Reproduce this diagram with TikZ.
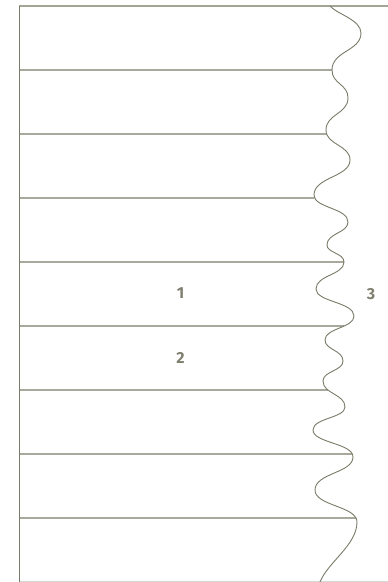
\documentclass[tikz,border=0pt]{standalone}
\usepackage{fontspec}
\setmainfont{Fira Sans}
\usetikzlibrary{intersections}
\definecolor{lineC}{RGB}{122,122,104}
\definecolor{topC}{RGB}{165,165,150}
\definecolor{botC}{RGB}{215,215,210}
\definecolor{textC}{RGB}{128,128,112}
\tikzset{
  rule/.style={draw=lineC, line width=1.4pt},
  wavy/.style={draw=lineC, line width=0.9pt},
  lbl/.style={text=textC, font=\fontsize{16}{19}\selectfont\bfseries, inner sep=0pt}
}
\begin{document}
\begin{tikzpicture}[x=1pt,y=-1pt]
\useasboundingbox (0,0) rectangle (388,582);
% frame
\draw[draw=topC, line width=1.4pt] (19,6) -- (388,6);
\draw[draw=botC, line width=1.2pt] (19,581.4) -- (388,581.4);
\draw[rule] (19.5,6) -- (19.5,582);
% wave
\path[wavy, name path=wave]
  (330,6) .. controls (337,14) and (361,20) .. (361,33)
  .. controls (361,51) and (332,51) .. (332,70)
  .. controls (332,84) and (348,84) .. (348,98)
  .. controls (348,114) and (326,114) .. (326,130)
  .. controls (326,145) and (350,145) .. (350,160)
  .. controls (350,177) and (314,177) .. (314,195)
  .. controls (314,208) and (348,208) .. (348,222)
  .. controls (348,233) and (327,233) .. (327,245)
  .. controls (327,253) and (344,253) .. (344,262)
  .. controls (344,275) and (316,275) .. (316,289)
  .. controls (316,302) and (354,302) .. (354,316)
  .. controls (354,328) and (325,328) .. (325,340)
  .. controls (325,350) and (343,350) .. (343,361)
  .. controls (343,371) and (323,371) .. (323,381)
  .. controls (323,394) and (345,394) .. (345,407)
  .. controls (345,418) and (313,418) .. (313,430)
  .. controls (313,443) and (353,443) .. (353,457)
  .. controls (353,473) and (315,473) .. (315,490)
  .. controls (315,506) and (357,506) .. (357,522)
  .. controls (357,545) and (328,562) .. (320,582);
% horizontal rules ending on the wave
\foreach \yy [count=\i] in {70,134,198,262,326,390,454,518} {
  \path[name path=h\i] (19,\yy) -- (388,\yy);
  \path[name intersections={of=wave and h\i, by={p\i}}];
  \coordinate (s\i) at (19,\yy);
  \draw[rule] (s\i) -- (p\i);
}
% labels
\node[lbl] (n1) at (180.5,293.5) {1};
\node[lbl] (n2) at (180.5,358) {2};
\node[lbl] (n3) at (371,294) {3};
\end{tikzpicture}
\end{document}
